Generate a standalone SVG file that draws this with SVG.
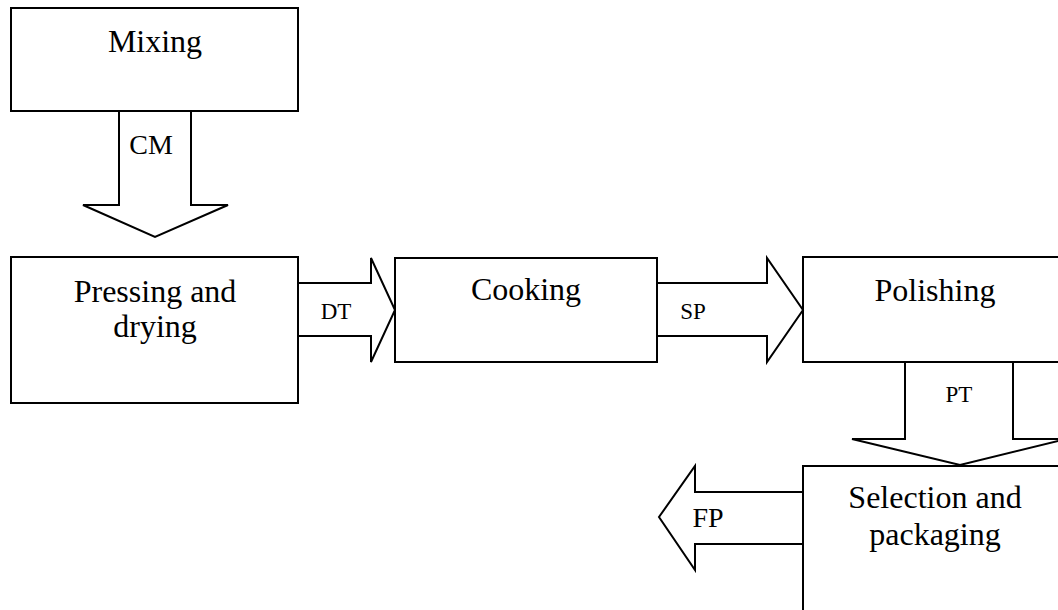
<svg xmlns="http://www.w3.org/2000/svg" width="1058" height="610" viewBox="0 0 1058 610">
<style>
.box{fill:#fff;stroke:#000;stroke-width:2}
.arr{fill:#fff;stroke:#000;stroke-width:2;stroke-linejoin:miter}
.t{font-family:"Liberation Serif","Times New Roman",serif;font-size:32px;fill:#000;text-anchor:middle}
.l{font-family:"Liberation Serif","Times New Roman",serif;font-size:23px;fill:#000;text-anchor:middle}
.lb{font-family:"Liberation Serif","Times New Roman",serif;font-size:28px;fill:#000;text-anchor:middle}
</style>
<rect width="1058" height="610" fill="#fff"/>
<g id="mixing">
<rect class="box" x="11" y="8" width="287" height="103"/>
<text class="t" x="155" y="52">Mixing</text>
</g>
<g id="pressing">
<rect class="box" x="11" y="257" width="287" height="146"/>
<text class="t" x="155" y="302">Pressing and</text>
<text class="t" x="155" y="337">drying</text>
</g>
<g id="cooking">
<rect class="box" x="395" y="258" width="262" height="104"/>
<text class="t" x="526" y="300">Cooking</text>
</g>
<g id="polishing">
<rect class="box" x="803" y="257" width="262" height="105"/>
<text class="t" x="935" y="301">Polishing</text>
</g>
<g id="selection">
<rect class="box" x="803" y="466" width="262" height="160"/>
<text class="t" x="935" y="508">Selection and</text>
<text class="t" x="935" y="545">packaging</text>
</g>
<g id="connectors">
<polygon class="arr" points="119,111 191,111 191,205 228,205 155,237 83,205 119,205"/>
<text class="lb" x="151" y="154">CM</text>
<polygon class="arr" points="298,283 371,283 371,258 395,310 371,362 371,336 298,336"/>
<text class="l" x="336" y="319">DT</text>
<polygon class="arr" points="657,283 767,283 767,258 803,310 767,362 767,336 657,336"/>
<text class="l" x="693" y="319">SP</text>
<polygon class="arr" points="905,362 1013,362 1013,439 1066,439 960,465 852,439 905,439"/>
<text class="l" x="959" y="402">PT</text>
<polygon class="arr" points="803,492 695,492 695,466 659,517 695,570 695,544 803,544"/>
<text class="lb" x="708" y="527">FP</text>
</g>
</svg>
